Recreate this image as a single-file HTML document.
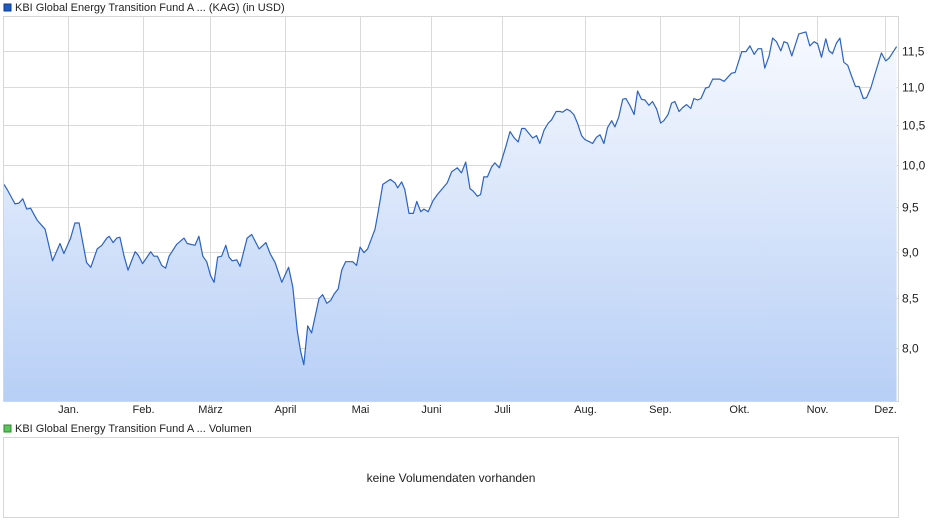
<!DOCTYPE html>
<html><head><meta charset="utf-8"><style>
body{margin:0;background:#fff;width:940px;height:526px;overflow:hidden;font-family:"Liberation Sans",sans-serif}
svg{display:block}
</style></head><body>
<svg id="chart" width="940" height="526" font-family="Liberation Sans, sans-serif">
<defs><linearGradient id="fillg" x1="0" y1="0" x2="0" y2="1"><stop offset="0" stop-color="#f7f9fe"/><stop offset="1" stop-color="#b7cff6"/></linearGradient></defs>
<rect x="4" y="4" width="7" height="7" fill="#1f5bc4" stroke="#0d3a8a" stroke-width="1"/>
<text x="15" y="11" font-size="11" fill="#222">KBI Global Energy Transition Fund A ... (KAG) (in USD)</text>
<g id="grid"></g>
<path id="area" fill="url(#fillg)"/>
<path id="line" fill="none" stroke="#2a62c8" stroke-width="1.2" stroke-linejoin="round"/>
<rect x="3.5" y="16.5" width="895" height="385" fill="none" stroke="#d6d6d6"/>
<g id="xlabels"></g><g id="ylabels"></g>
<rect x="4" y="425" width="7" height="7" fill="#5cc45c" stroke="#2a8a2a" stroke-width="1"/>
<text x="15" y="432" font-size="11" fill="#222">KBI Global Energy Transition Fund A ... Volumen</text>
<rect x="3.5" y="437.5" width="895" height="80" fill="#fff" stroke="#d6d6d6"/>
<text x="451" y="482" font-size="12" fill="#222" text-anchor="middle">keine Volumendaten vorhanden</text>
</svg>
<script>
const idx=[0,0.9,3.1,4.2,5.3,6.4,7.5,9.4,11.6,13.7,15.8,16.9,18.8,20.0,21.2,23.3,24.5,26.3,27.6,29.0,29.7,30.8,31.8,32.7,33.9,35.0,37.0,37.9,39.1,41.4,42.3,43.3,44.5,45.6,46.6,48.7,50.8,51.7,53.9,55.0,56.1,57.2,58.3,59.3,60.3,61.4,62.6,63.5,64.4,65.7,66.6,68.6,69.9,72.0,73.9,75.1,76.5,78.4,80.3,81.5,82.8,83.7,84.6,85.7,86.8,88.9,89.9,91.1,92.2,93.2,94.3,95.3,96.4,98.4,99.5,100.5,101.6,102.6,104.7,105.6,106.9,109.0,110.3,111.1,112.2,113.1,114.3,115.5,116.5,117.6,118.5,119.7,121.1,122.3,125.1,126.3,127.9,129.1,130.3,131.5,132.4,133.6,134.5,135.4,136.4,137.6,138.5,139.8,141.6,142.8,144.0,145.1,146.1,147.0,149.2,150.3,151.2,152.4,153.6,154.5,155.8,156.9,157.6,158.8,159.7,160.8,161.8,163.0,163.9,165.3,166.1,167.2,168.2,169.3,170.3,171.5,172.4,173.5,174.6,175.5,176.6,177.8,178.8,179.9,180.9,182.0,183.0,184.2,185.3,186.2,187.4,188.4,189.3,190.5,191.5,192.6,193.8,194.7,195.7,196.7,198.0,198.9,200.0,202.0,203.2,205.3,206.3,208.2,209.4,210.5,211.7,212.8,213.8,214.7,215.9,216.9,218.0,219.2,220.1,221.1,222.3,224.3,226.3,227.4,228.6,229.6,230.7,231.9,232.8,233.8,234.9,235.9,237.0,238.1,239.2,240.3,241.3,242.5,243.4,244.6,245.8,247.6,248.8,249.8,251.9];
const values=[9.77,9.71,9.54,9.55,9.60,9.48,9.49,9.35,9.25,8.90,9.09,8.98,9.15,9.32,9.32,8.88,8.83,9.03,9.07,9.15,9.17,9.10,9.15,9.16,8.95,8.80,9.00,8.96,8.87,9.00,8.95,8.95,8.85,8.82,8.95,9.08,9.15,9.09,9.07,9.17,8.95,8.89,8.74,8.67,8.94,8.95,9.07,8.94,8.90,8.91,8.84,9.15,9.19,9.03,9.10,8.98,8.88,8.67,8.83,8.62,8.16,7.97,7.84,8.22,8.15,8.50,8.54,8.45,8.48,8.55,8.60,8.80,8.89,8.89,8.85,9.05,8.99,9.03,9.25,9.45,9.77,9.83,9.79,9.73,9.80,9.71,9.43,9.43,9.57,9.45,9.48,9.45,9.58,9.65,9.79,9.92,9.97,9.91,10.04,9.72,9.69,9.63,9.65,9.86,9.86,9.98,10.03,9.97,10.23,10.42,10.34,10.29,10.46,10.46,10.34,10.37,10.27,10.44,10.53,10.57,10.68,10.68,10.67,10.71,10.69,10.64,10.53,10.37,10.32,10.29,10.27,10.35,10.38,10.27,10.47,10.56,10.48,10.61,10.84,10.85,10.76,10.64,10.95,10.84,10.83,10.76,10.81,10.71,10.53,10.56,10.64,10.79,10.81,10.68,10.73,10.77,10.72,10.85,10.83,10.85,10.99,11.00,11.11,11.11,11.08,11.19,11.20,11.49,11.49,11.57,11.45,11.53,11.53,11.26,11.43,11.68,11.63,11.50,11.63,11.61,11.43,11.74,11.77,11.57,11.63,11.60,11.41,11.67,11.50,11.46,11.61,11.68,11.34,11.30,11.15,11.01,11.01,10.85,10.86,10.99,11.18,11.47,11.36,11.40,11.56];
const monthLabels=["Jan.","Feb.","März","April","Mai","Juni","Juli","Aug.","Sep.","Okt.","Nov.","Dez."];
const monthIdx=[18.1,39.2,58.1,79.3,100.5,120.5,140.5,163.9,185.1,207.4,229.4,248.6];
const yTicks=[8.0,8.5,9.0,9.5,10.0,10.5,11.0,11.5];
const yTickLabels=["8,0","8,5","9,0","9,5","10,0","10,5","11,0","11,5"];
const X0=4,X1=897,XMAX=252,YT=16,YB=401,VMIN=7.5,VMAX=12.0;
const xs=i=>X0+(i/XMAX)*(X1-X0);
const ys=v=>YB-(Math.log(v/VMIN)/Math.log(VMAX/VMIN))*(YB-YT);
const NS="http://www.w3.org/2000/svg";
const grid=document.getElementById('grid'),xl=document.getElementById('xlabels'),yl=document.getElementById('ylabels');
yTicks.forEach((t,k)=>{
 const y=Math.round(ys(t))+0.5;
 const l=document.createElementNS(NS,'line');
 l.setAttribute('x1',4);l.setAttribute('x2',898);l.setAttribute('y1',y);l.setAttribute('y2',y);
 l.setAttribute('stroke','#dadada');
 
 
 grid.appendChild(l);
 const tx=document.createElementNS(NS,'text');
 tx.setAttribute('x',902);tx.setAttribute('y',y+4);tx.setAttribute('font-size','12');tx.setAttribute('fill','#222');
 tx.textContent=yTickLabels[k];
 
 
 yl.appendChild(tx);
});
monthIdx.forEach((m,k)=>{
 const x=Math.round(xs(m))+0.5;
 const l=document.createElementNS(NS,'line');
 l.setAttribute('x1',x);l.setAttribute('x2',x);l.setAttribute('y1',17);l.setAttribute('y2',401);
 l.setAttribute('stroke','#dadada');
 
 
 grid.appendChild(l);
 const tx=document.createElementNS(NS,'text');
 tx.setAttribute('x',x);tx.setAttribute('y',413);tx.setAttribute('font-size','11');tx.setAttribute('fill','#222');tx.setAttribute('text-anchor','middle');
 tx.textContent=monthLabels[k];
 
 
 xl.appendChild(tx);
});
let d='';
idx.forEach((i,k)=>{d+=(k?'L':'M')+xs(i).toFixed(1)+' '+ys(values[k]).toFixed(1);});
document.getElementById('line').setAttribute('d',d);
document.getElementById('area').setAttribute('d',d+'L'+xs(idx[idx.length-1]).toFixed(1)+' '+YB+'L'+xs(idx[0]).toFixed(1)+' '+YB+'Z');
</script>
</body></html>
